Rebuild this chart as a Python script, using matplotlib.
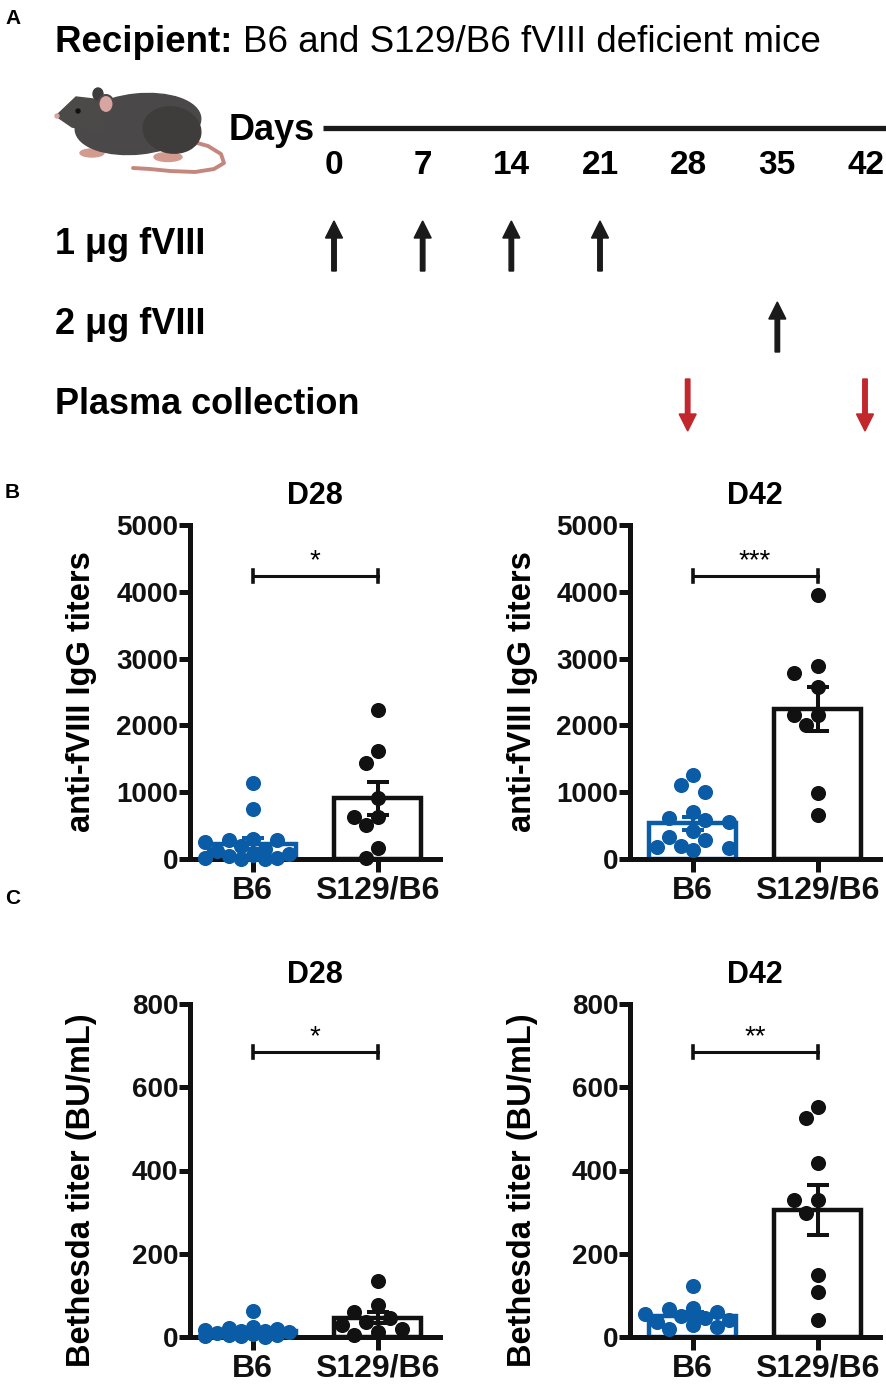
import matplotlib
matplotlib.use('Agg')
from matplotlib import pyplot as plt
from matplotlib.patches import Ellipse, Polygon
import numpy as np

plt.rcParams['font.family'] = ['Liberation Sans', 'DejaVu Sans']

# timeline (panel A)
DAYS = [0, 7, 14, 21, 28, 35, 42]
DOSE_1UG_DAYS = [0, 7, 14, 21]
DOSE_2UG_DAYS = [35]
COLLECT_DAYS = [28, 42]

GROUPS = ['B6', 'S129/B6']

# panel B: anti-fVIII IgG titers
igg_d28_b6 = [1140, 750, 300, 290, 280, 250, 200, 150, 120, 80, 60, 40, 20, 10, 5, 0]
igg_d28_s129 = [2230, 1620, 1440, 920, 630, 630, 510, 165, 15]
igg_d42_b6 = [1260, 1110, 1000, 700, 610, 580, 560, 420, 330, 280, 200, 180, 165, 130]
igg_d42_s129 = [3950, 2890, 2780, 2580, 2160, 2160, 2000, 990, 660]

# panel C: Bethesda titers (BU/mL)
bu_d28_b6 = [62, 25, 22, 20, 18, 15, 14, 12, 10, 8, 6, 5, 3, 2, 0]
bu_d28_s129 = [134, 77, 60, 45, 35, 30, 20, 12, 5]
bu_d42_b6 = [122, 70, 67, 60, 55, 50, 45, 40, 35, 30, 25, 20]
bu_d42_s129 = [552, 525, 418, 329, 329, 297, 149, 108, 41]

SIG_B = ['*', '***']
SIG_C = ['*', '**']

BLUE = '#0b5ca6'
BLACK = '#111111'
RED = '#c1272d'
W, H = 886, 1385

fig = plt.figure(figsize=(W / 100, H / 100), dpi=100)

# overlay in pixel coordinates for panel A and letters
ov = fig.add_axes([0, 0, 1, 1])
ov.set_xlim(0, W)
ov.set_ylim(H, 0)
ov.axis('off')

ov.text(5, 18, 'A', fontsize=15, fontweight='bold', va='center')
ov.text(5, 493, 'B', fontsize=15, fontweight='bold', va='center')
ov.text(5, 898, 'C', fontsize=15, fontweight='bold', va='center')

t = ov.text(55, 43, 'Recipient: ', fontsize=26.5, fontweight='bold', va='center')
fig.canvas.draw()
bb = t.get_window_extent()
ov.text(55 + bb.width, 43, 'B6 and S129/B6 fVIII deficient mice', fontsize=26.5, va='center')

# mouse (rough drawing)
tail_x = [190, 208, 221, 224, 214, 195, 170, 150, 133]
tail_y = [141, 146, 154, 163, 169, 172, 171, 169, 168]
ov.plot(tail_x, tail_y, color='#c4877e', lw=2.8, solid_capstyle='round', zorder=1)
ov.add_patch(Ellipse((92, 153), 24, 8, color='#d39a90', zorder=1))
ov.add_patch(Ellipse((168, 157), 28, 9, color='#d39a90', zorder=1))
ov.add_patch(Ellipse((138, 124), 126, 60, angle=-6, color='#4a4848', zorder=2))
ov.add_patch(Ellipse((172, 130), 58, 46, angle=10, color='#3f3d3c', zorder=2))
ov.add_patch(Polygon([(56, 116), (76, 97), (102, 100), (104, 134), (72, 127)], color='#4c4a49', zorder=3))
ov.add_patch(Ellipse((98, 94), 10, 12, color='#3e3c3b', zorder=3))
ov.add_patch(Ellipse((106, 104), 15, 18, color='#d9a5a0', ec='#4c4a49', lw=1.5, zorder=4))
ov.add_patch(Ellipse((78, 111), 4, 4, color='#111111', zorder=4))
ov.add_patch(Ellipse((57, 116), 4, 4, color='#d9a5a0', zorder=4))

# timeline
day_x0 = 334
day_step = (866 - 334) / 42.0
ov.text(315, 130, 'Days', fontsize=26, fontweight='bold', ha='right', va='center')
ov.plot([323, 886], [128, 128], color='#1a1a1a', lw=3.8, solid_capstyle='butt')
for d in DAYS:
    ov.text(day_x0 + d * day_step, 165, str(d), fontsize=24, fontweight='bold', ha='center', va='center')

ov.text(55, 245, '1 \u03bcg fVIII', fontsize=26, fontweight='bold', va='center')
ov.text(55, 325, '2 \u03bcg fVIII', fontsize=26, fontweight='bold', va='center')
ov.text(55, 405, 'Plasma collection', fontsize=26, fontweight='bold', va='center')

for d in DOSE_1UG_DAYS:
    ov.arrow(day_x0 + d * day_step, 271, 0, -50, width=4.5, head_width=17, head_length=17,
             length_includes_head=True, color='#1a1a1a')
for d in DOSE_2UG_DAYS:
    ov.arrow(day_x0 + d * day_step, 352, 0, -50, width=4.5, head_width=17, head_length=17,
             length_includes_head=True, color='#1a1a1a')
for d in COLLECT_DAYS:
    ov.arrow(day_x0 + d * day_step - 1, 379, 0, 52, width=4.5, head_width=17, head_length=17,
             length_includes_head=True, color=RED)


def swarm(vals, y_px, x_px, d_px=15.0, max_off=46.0):
    # simple beeswarm: nearest free spot to the centre line
    cand = np.arange(-max_off, max_off + 0.1, 0.8 * d_px)
    cand = cand - cand[np.argmin(np.abs(cand))]
    cand = cand[np.argsort(np.abs(cand), kind='stable')]
    order = np.argsort(vals)[::-1]
    placed = []
    offs = np.zeros(len(vals))
    for i in order:
        y = vals[i] * y_px
        best, best_d = 0.0, -1.0
        for x in cand:
            md = min([np.hypot(x - px, y - py) for px, py in placed] + [1e9])
            if md >= 0.95 * d_px:
                best = x
                break
            if md > best_d:
                best, best_d = x, md
        placed.append((best, y))
        offs[i] = best / x_px
    return offs


def panel(rect, b6, s129, ymax, step, ylabel, title, sig, sig_y, label_y):
    ax = fig.add_axes(rect)
    y_px = rect[3] * H / ymax
    x_px = rect[2] * W / 2.0
    for i, (vals, col) in enumerate([(b6, BLUE), (s129, BLACK)]):
        vals = np.array(vals, dtype=float)
        m = vals.mean()
        sem = vals.std(ddof=1) / np.sqrt(len(vals))
        ax.bar(i, m, width=0.7, facecolor='white', edgecolor=col, linewidth=3.2, zorder=2)
        ax.scatter(i + swarm(vals, y_px, x_px), vals, s=118, color=col, linewidths=0,
                   zorder=4, clip_on=False)
        ax.errorbar(i, m, yerr=sem, fmt='none', ecolor=col, elinewidth=2.9, capsize=8,
                    capthick=2.9, zorder=5)
    # significance bracket
    ax.plot([0, 1], [sig_y, sig_y], color=BLACK, lw=2.2, zorder=5)
    for xx in (0, 1):
        ax.plot([xx, xx], [sig_y - ymax * 0.018, sig_y + ymax * 0.018], color=BLACK, lw=2.6, zorder=5)
    ax.text(0.5, sig_y + ymax * 0.045, sig, fontsize=20, ha='center', va='center')

    ax.set_xlim(-0.5, 1.5)
    ax.set_ylim(0, ymax)
    ax.set_yticks(np.arange(0, ymax + 1, step))
    ax.set_xticks([0, 1])
    ax.set_xticklabels(GROUPS)
    for s in ('top', 'right'):
        ax.spines[s].set_visible(False)
    for s in ('left', 'bottom'):
        ax.spines[s].set_linewidth(3.6)
        ax.spines[s].set_color(BLACK)
    ax.tick_params(axis='y', length=8, width=3.6, pad=0.5, labelsize=20, colors=BLACK)
    ax.tick_params(axis='x', length=9, width=3.6, pad=3, labelsize=23, colors=BLACK)
    for lab in ax.get_xticklabels() + ax.get_yticklabels():
        lab.set_fontweight('bold')
    ax.set_title(title, fontsize=22, fontweight='bold', pad=15)
    ax.set_ylabel(ylabel, fontsize=23.5, fontweight='bold')
    ax.yaxis.set_label_coords(-0.37, label_y)
    ax.patch.set_alpha(0)
    return ax


bw = 250 / W
bh = 334 / H
panel([190 / W, 1 - 859 / H, bw, bh], igg_d28_b6, igg_d28_s129, 5000, 1000,
      'anti-fVIII IgG titers', 'D28', SIG_B[0], 4240, 0.5)
panel([630 / W, 1 - 859 / H, bw, bh], igg_d42_b6, igg_d42_s129, 5000, 1000,
      'anti-fVIII IgG titers', 'D42', SIG_B[1], 4240, 0.5)
ch = 333 / H
panel([190 / W, 1 - 1337 / H, bw, ch], bu_d28_b6, bu_d28_s129, 800, 200,
      'Bethesda titer (BU/mL)', 'D28', SIG_C[0], 684, 0.44)
panel([630 / W, 1 - 1337 / H, bw, ch], bu_d42_b6, bu_d42_s129, 800, 200,
      'Bethesda titer (BU/mL)', 'D42', SIG_C[1], 684, 0.44)

fig.savefig('out.png', dpi=100)
